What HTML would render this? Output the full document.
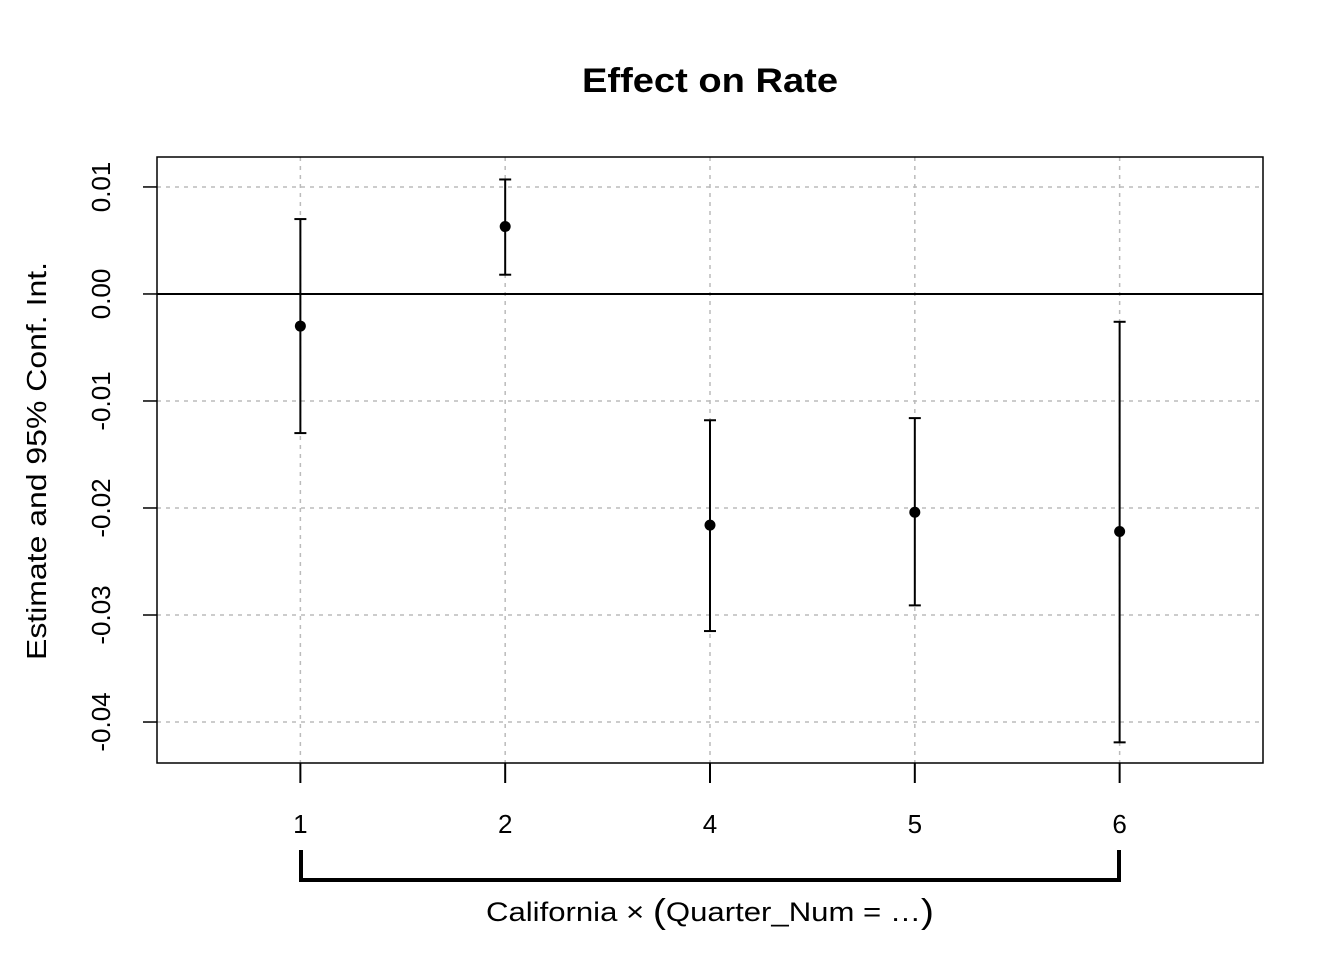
<!DOCTYPE html>
<html><head><meta charset="utf-8"><style>
html,body{margin:0;padding:0;background:#fff;}
svg{display:block;font-family:"Liberation Sans",Arial,sans-serif;}
</style></head><body>
<svg id="chart" width="1344" height="960" viewBox="0 0 1344 960">
<text x="710" y="92" text-anchor="middle" font-size="34" font-weight="bold" textLength="256" lengthAdjust="spacingAndGlyphs">Effect on Rate</text>
<g id="grid"></g>
<line x1="157" y1="294" x2="1263" y2="294" stroke="#000" stroke-width="2"/>
<g id="marks"></g>
<rect x="157" y="157" width="1106" height="606" fill="none" stroke="#000" stroke-width="1.5"/>
<g id="yaxis"></g>
<g id="xaxis"></g>
<text transform="translate(46,461) rotate(-90)" text-anchor="middle" font-size="28" textLength="398" lengthAdjust="spacingAndGlyphs">Estimate and 95% Conf. Int.</text>
<path d="M301,850 V880 H1119 V850" fill="none" stroke="#000" stroke-width="4"/>
<text x="710" y="921" text-anchor="middle" font-size="27" textLength="448" lengthAdjust="spacingAndGlyphs">California × <tspan font-size="34" dy="2">(</tspan><tspan dy="-2">Quarter_Num = …</tspan><tspan font-size="34" dy="2">)</tspan></text>
</svg>
<script>
const categories = ["1","2","4","5","6"];
const estimates = [-0.0030, 0.0063, -0.0216, -0.0204, -0.0222];
const ciLow = [-0.0130, 0.0018, -0.0315, -0.0291, -0.0419];
const ciHigh = [0.0070, 0.0107, -0.0118, -0.0116, -0.0026];
const yTicks = [0.01, 0.00, -0.01, -0.02, -0.03, -0.04];
const yTickLabels = ["0.01","0.00","-0.01","-0.02","-0.03","-0.04"];

const NS = "http://www.w3.org/2000/svg";
const X0 = 157, X1 = 1263, Y0 = 157, Y1 = 763;
const xMin = 0.3, xMax = categories.length + 0.7;
const yMin = -0.04383, yMax = 0.0128;
const xs = i => X0 + (i + 1 - xMin) / (xMax - xMin) * (X1 - X0);
const ys = v => Y1 - (v - yMin) / (yMax - yMin) * (Y1 - Y0);
function mk(tag, attrs, parent) {
  const e = document.createElementNS(NS, tag);
  for (const k in attrs) e.setAttribute(k, attrs[k]);
  parent.appendChild(e);
  return e;
}
const grid = document.getElementById('grid');
const marks = document.getElementById('marks');
const yaxis = document.getElementById('yaxis');
const xaxis = document.getElementById('xaxis');

yTicks.forEach((t, i) => {
  const y = ys(t);
  if (t !== 0) {
    const g = mk('line', {x1: X0, x2: X1, y1: y, y2: y, stroke: '#bbb', 'stroke-width': 1.5, 'stroke-dasharray': '4,5'}, grid);
    
    
  }
  const tk = mk('line', {x1: X0 - 14, x2: X0, y1: y, y2: y, stroke: '#000', 'stroke-width': 1.5}, yaxis);
  
  
  const lb = mk('text', {transform: `translate(110,${y}) rotate(-90)`, 'text-anchor': 'middle', 'font-size': 26}, yaxis);
  lb.textContent = yTickLabels[i];
  
  
});

categories.forEach((c, i) => {
  const x = xs(i);
  const g = mk('line', {x1: x, x2: x, y1: Y0, y2: Y1, stroke: '#bbb', 'stroke-width': 1.5, 'stroke-dasharray': '4,5'}, grid);
  
  
  const tk = mk('line', {x1: x, x2: x, y1: Y1, y2: Y1 + 20, stroke: '#000', 'stroke-width': 2}, xaxis);
  
  
  const lb = mk('text', {x: x, y: 833, 'text-anchor': 'middle', 'font-size': 26}, xaxis);
  lb.textContent = c;
  
  

  const yl = ys(ciLow[i]), yh = ys(ciHigh[i]);
  const bar = mk('line', {x1: x, x2: x, y1: yh, y2: yl, stroke: '#000', 'stroke-width': 2}, marks);
  
  
  [yl, yh].forEach(yy => {
    const cap = mk('line', {x1: x - 6, x2: x + 6, y1: yy, y2: yy, stroke: '#000', 'stroke-width': 2}, marks);
    
    
  });
  const pt = mk('circle', {cx: x, cy: ys(estimates[i]), r: 5.5, fill: '#000'}, marks);
  
  
});
</script>
</body></html>
